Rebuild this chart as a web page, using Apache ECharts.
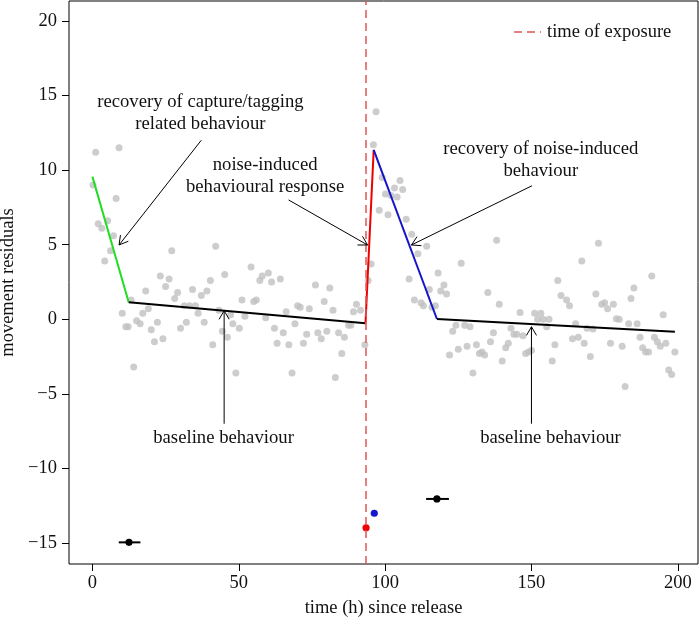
<!DOCTYPE html>
<html>
<head>
<meta charset="utf-8">
<script src="https://cdn.jsdelivr.net/npm/echarts@6.0.0/dist/echarts.min.js"></script>
<style>
  html, body { margin: 0; padding: 0; background: #fff; }
  #main { width: 699px; height: 627px; }
</style>
</head>
<body>
<div id="main"></div>
<script>
// movement residuals as [time (h), residual]
var residuals = [
  [0.2, 9.0], [1.1, 11.2], [2.0, 6.4], [3.2, 6.1], [4.2, 3.9], [5.2, 6.6], [6.2, 4.6], [7.2, 5.6],
  [8.1, 8.1], [9.1, 11.5], [10.2, 0.4], [11.4, -0.5], [12.2, -0.5], [13.2, 1.3], [14.1, -3.2],
  [15.1, -0.1], [16.3, -0.3], [17.2, 0.4], [18.2, 1.9], [19.1, 0.7], [20.1, -0.7], [21.2, -1.5],
  [22.2, -0.2], [23.2, 2.9], [24.1, -1.3], [25, 2.2], [26.2, 2.7], [27.1, 4.6], [28.1, 1.4],
  [29.1, 1.8], [30.1, -0.6], [31.4, 0.9], [32.1, -0.2], [33.2, 0.9], [34.2, 2.0], [35.2, 0.9],
  [36.1, 0.4], [37.2, 1.6], [38.2, -0.2], [39.1, 1.9], [40.3, 2.6], [41.1, -1.7], [42.1, 4.9],
  [43.2, 0.6], [44.4, -0.8], [45.2, 3.0], [46.1, -1.2], [47.2, 0.3], [48, -0.3], [49, -3.6],
  [50.2, -0.6], [51.1, 1.3], [52.1, 0.2], [54.2, 3.5], [55.1, 1.2], [56, 1.3], [57.2, 2.6],
  [58, 2.9], [59.2, 0.1], [60.1, 3.1], [61.2, 2.5], [62.2, -0.6], [63.1, -1.6], [64.2, 2.7],
  [65.2, -0.9], [66.2, 0.5], [67.1, -1.7], [68.2, -3.6], [69.2, -0.3], [70.1, 0.9], [71, 0.8],
  [72.1, -1.6], [73.2, -1.0], [74.1, 0.7], [76.2, 2.3], [77, -0.9], [78.2, -1.3], [79.2, 1.2],
  [80.1, -0.8], [81.1, 2.1], [82.2, 0.6], [83, -3.9], [84.1, -0.9], [85.2, -2.3], [86.1, -1.2],
  [87.5, -0.4], [88.3, -0.4], [89.2, 0.5], [90.2, 1.0], [91.6, 0.6], [93.1, -1.7], [94.2, 2.6],
  [95.2, 3.7], [96, 11.7], [96.9, 13.9], [98, 7.3], [99, 9.5], [100.1, 8.4], [101, 7.0],
  [102, 8.3], [103.2, 8.8], [104.1, 8.2], [105.1, 9.3], [106, 8.7], [107.2, 6.7], [108.2, 2.7],
  [109.1, 5.7], [110, 1.3], [111.2, 4.4], [112.3, 1.1], [113.1, 0.9], [114.2, 4.9], [115.1, 2.0],
  [116, 0.8], [117.2, 0.9], [118.1, 3.1], [119, 1.9], [120.1, 2.3], [121, 1.7], [122, -2.4],
  [123.1, -0.8], [124.2, -0.4], [125, -2.0], [126, 3.75], [127.2, -0.4], [128, -1.8], [129, -0.5],
  [130, -3.6], [131.2, -1.7], [132.2, -2.3], [133.1, -2.2], [134, -2.4], [135.1, 1.8], [136, -1.5],
  [137, -0.9], [138.1, 5.3], [139, 1.0], [140, -2.8], [141.2, -1.9], [142.1, -1.6], [143, -0.6],
  [144, -1.0], [145, -1.0], [146.1, 0.45], [147.1, -1.1], [148, -2.3], [149, -2.2], [150, -2.1],
  [151.1, 0.4], [152.1, 0], [153.2, 0.4], [154, 0], [155.2, -0.5], [156, 0], [157.1, -2.8],
  [158, -1.7], [159, 2.6], [160.1, 1.6], [162, 1.3], [163, 0.9], [164, -1.3], [165.1, -0.3],
  [166, -1.2], [167.2, 3.9], [168, -1.6], [169, -0.6], [170.1, -2.5], [171, -0.65], [172, 1.7],
  [172.9, 5.1], [174, 1.0], [175, 1.1], [176, 0.7], [177, -1.6], [178, 1.0], [179, 0.04], [180, 0],
  [181, -1.8], [182, -4.5], [183.2, -0.3], [184, 1.4], [185, 2.1], [186.1, -0.3], [187.1, -1.2],
  [188, -1.9], [189, -2.2], [190, -2.2], [191.1, 2.9], [192, -1.2], [193, -1.5], [194, -1.8],
  [195, 0.3], [195.9, -1.6], [196.9, -3.4], [197.9, -3.7], [199, -2.2]
]

// fitted piecewise model: knots, one segment between each pair
var fitX = [0, 12.4, 93.3, 96.1, 117.7, 199]
var fitY = [9.56, 1.14, -0.27, 11.35, 0.02, -0.83]

var exposureTime = 93.5

// change point estimates with intervals
var estX = [12.5, 93.5, 96.3, 117.7]
var estY = [-14.95, -13.97, -13.0, -12.04]
var estLo = [9.0, 92.5, 96.3, 114.0]
var estHi = [16.4, 94.5, 96.3, 121.8]

// annotation arrows (from -> to) and texts
var arrowFrom = [[37.2, 12.0], [67, 8.0], [150.2, 8.95], [45, -7.0], [150, -7.0]]
var arrowTo = [[9.1, 4.98], [94, 4.98], [109, 4.98], [45, 0.58], [150, -0.5]]
var noteText = ['recovery of capture/tagging\nrelated behaviour', 'noise-induced\nbehavioural response',
  'recovery of noise-induced\nbehaviour', 'baseline behaviour', 'baseline behaviour']
var noteX = [36.9, 59, 153.2, 44.8, 156.5]
var noteY = [13.83, 9.62, 10.64, -7.96, -7.96]

var xTicks = [0, 50, 100, 150, 200]
var yTicks = [-15, -10, -5, 0, 5, 10, 15, 20]

var font = 'Liberation Serif, DejaVu Serif, serif'
var segColors = ['#22dd22', '#000000', '#ee0000', '#1515c8', '#000000']
var estColors = ['#000000', '#ee0000', '#1515d0', '#000000']

var myChart = echarts.init(document.getElementById('main'))

var series = []
series.push({
  type: 'scatter',
  data: residuals,
  symbolSize: 7,
  itemStyle: { color: '#c0c0c0' },
  silent: true,
  z: 1,
  markLine: {
    silent: true,
    symbol: 'none',
    label: { show: false },
    lineStyle: { color: '#e05555', width: 1.5, type: [8, 5] },
    data: [{ xAxis: exposureTime }]
  }
})

for (var i = 0; i < fitX.length - 1; i++) {
  series.push({
    type: 'line',
    data: [[fitX[i], fitY[i]], [fitX[i + 1], fitY[i + 1]]],
    symbol: 'none',
    lineStyle: { color: segColors[i], width: 2 },
    silent: true,
    z: 3
  })
}

// change point estimates + interval bars
series.push({
  type: 'custom',
  silent: true,
  z: 4,
  data: estX.map(function (x, k) { return [x, estY[k], estLo[k], estHi[k]] }),
  encode: { x: [0, 2, 3], y: 1 },
  renderItem: function (params, api) {
    var c = api.coord([api.value(0), api.value(1)])
    var lo = api.coord([api.value(2), api.value(1)])
    var hi = api.coord([api.value(3), api.value(1)])
    var col = estColors[params.dataIndex]
    return {
      type: 'group',
      children: [
        { type: 'line', shape: { x1: lo[0], y1: lo[1], x2: hi[0], y2: hi[1] }, style: { stroke: col, lineWidth: 2 } },
        { type: 'circle', shape: { cx: c[0], cy: c[1], r: 3.6 }, style: { fill: col } }
      ]
    }
  }
})

// arrows with open heads
series.push({
  type: 'custom',
  silent: true,
  z: 5,
  data: arrowFrom.map(function (f, k) { return [f[0], f[1], arrowTo[k][0], arrowTo[k][1]] }),
  encode: { x: [0, 2], y: [1, 3] },
  renderItem: function (params, api) {
    var a = api.coord([api.value(0), api.value(1)])
    var b = api.coord([api.value(2), api.value(3)])
    var ang = Math.atan2(b[1] - a[1], b[0] - a[0])
    var len = 10, spread = Math.PI / 6
    var h1 = [b[0] - len * Math.cos(ang - spread), b[1] - len * Math.sin(ang - spread)]
    var h2 = [b[0] - len * Math.cos(ang + spread), b[1] - len * Math.sin(ang + spread)]
    return {
      type: 'group',
      children: [
        { type: 'line', shape: { x1: a[0], y1: a[1], x2: b[0], y2: b[1] }, style: { stroke: '#000', lineWidth: 1 } },
        { type: 'polyline', shape: { points: [h1, b, h2] }, style: { stroke: '#000', lineWidth: 1, fill: null } }
      ]
    }
  }
})

// annotation texts
series.push({
  type: 'custom',
  silent: true,
  z: 6,
  data: noteX.map(function (x, k) { return [x, noteY[k]] }),
  renderItem: function (params, api) {
    var p = api.coord([api.value(0), api.value(1)])
    return {
      type: 'text',
      x: p[0],
      y: p[1],
      style: {
        text: noteText[params.dataIndex],
        fill: '#111',
        fontFamily: font,
        fontSize: 18.7,
        lineHeight: 22,
        align: 'center',
        verticalAlign: 'middle'
      }
    }
  }
})

var option = {
  backgroundColor: '#fff',
  animation: false,
  grid: {
    left: 69,
    right: 1,
    top: 1,
    bottom: 63,
    show: true,
    borderColor: '#000',
    borderWidth: 1,
    containLabel: false,
    outerBoundsMode: 'none'
  },
  xAxis: {
    type: 'value',
    min: -8,
    max: 206.9,
    name: 'time (h) since release',
    nameLocation: 'middle',
    nameGap: 35,
    nameTextStyle: { color: '#111', fontFamily: font, fontSize: 18.5 },
    axisLine: { show: false, onZero: false },
    splitLine: { show: false },
    axisTick: { show: true, length: 7, lineStyle: { color: '#000' }, customValues: xTicks },
    axisLabel: { color: '#111', fontFamily: font, fontSize: 18.5, margin: 10, customValues: xTicks }
  },
  yAxis: {
    type: 'value',
    min: -16.4,
    max: 21.33,
    name: 'movement residuals',
    nameLocation: 'middle',
    nameGap: 43,
    nameRotate: 90,
    nameTextStyle: { color: '#111', fontFamily: font, fontSize: 18.5 },
    axisLine: { show: false, onZero: false },
    splitLine: { show: false },
    axisTick: { show: true, length: 7, lineStyle: { color: '#000' }, customValues: yTicks },
    axisLabel: {
      color: '#111',
      fontFamily: font,
      fontSize: 18.5,
      margin: 12,
      customValues: yTicks,
      formatter: function (v) { return v < 0 ? '\u2212' + Math.abs(v) : String(v) }
    }
  },
  graphic: [
    { type: 'line', shape: { x1: 514, y1: 32, x2: 541, y2: 32 }, style: { stroke: '#e05555', lineWidth: 1.5, lineDash: [8, 5] } },
    { type: 'text', x: 547, y: 32, style: { text: 'time of exposure', fill: '#111', fontFamily: font, fontSize: 18.5, align: 'left', verticalAlign: 'middle' } }
  ],
  series: series
}

myChart.setOption(option)
</script>
</body>
</html>
